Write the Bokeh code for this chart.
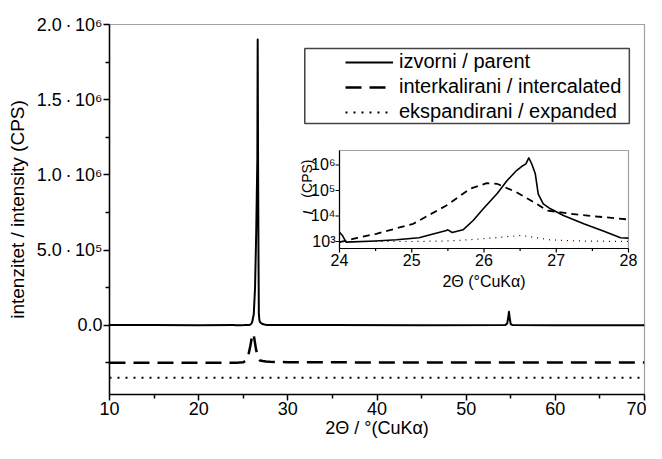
import math
from bokeh.plotting import figure
from bokeh.models import Range1d, LogScale, FixedTicker, Legend, LegendItem
from bokeh.core.properties import value
from bokeh.embed import file_html
from bokeh.resources import INLINE

# ---------------- data ----------------
parent_2theta = [10, 15, 20, 24.0, 24.04, 24.09, 24.5, 24.79, 25.1, 25.48, 25.5, 25.56,
                 25.71, 25.85, 25.99, 26.18, 26.32, 26.45, 26.52, 26.58, 26.62, 26.66,
                 26.71, 26.75, 26.82, 26.92, 27.1, 27.38, 27.66, 27.89, 28.0, 35, 45,
                 54.4, 54.6, 54.7, 54.8, 54.9, 55.0, 55.2, 60, 70]
parent_cps = [1500, 1300, 1200, 2300, 1720, 940, 1050, 1170, 1400, 2700, 2870, 2250,
              2870, 6650, 19100, 74000, 246000, 605000, 870000, 1100000, 1900000, 1120000,
              450000, 74000, 30000, 19100, 10400, 4940, 2530, 1400, 1350, 1300, 1200,
              1500, 12000, 45000, 90000, 40000, 8000, 1500, 1100, 1000]

inter_2theta = [10, 20, 24.0, 24.23, 24.51, 25.02, 25.48, 25.81, 26.04, 26.18, 26.45,
                26.69, 26.87, 27.19, 27.56, 28.0, 30, 40, 55, 70]
inter_cps = [1500, 1100, 940, 1350, 2000, 4940, 25800, 117000, 194000, 183000, 85000,
             34700, 16500, 12300, 9560, 7300, 5000, 3000, 2500, 2000]

exp_2theta = [10, 24.0, 25.0, 25.5, 25.8, 26.2, 26.5, 26.7, 26.9, 27.3, 28.0, 40, 70]
exp_cps = [1200, 1000, 1000, 1050, 1170, 1450, 1720, 1450, 1170, 1050, 1000, 1000, 1000]

inter_offset = -0.25e6
exp_offset = -0.35e6

series_labels = ["izvorni / parent", "interkalirani / intercalated", "ekspandirani / expanded"]

x_major = [10, 20, 30, 40, 50, 60, 70]
x_minor = [15, 25, 35, 45, 55, 65]
y_major = [0, 0.5e6, 1.0e6, 1.5e6, 2.0e6]
y_minor = [-0.25e6, 0.25e6, 0.75e6, 1.25e6, 1.75e6]
y_tick_labels = ["0.0", "5.0\u2009·\u200910⁵", "1.0\u2009·\u200910⁶",
                 "1.5\u2009·\u200910⁶", "2.0\u2009·\u200910⁶"]

inset_x_major = [24, 25, 26, 27, 28]
inset_x_minor = [24.5, 25.5, 26.5, 27.5]
inset_x_labels = ["24", "25", "26", "27", "28"]
inset_y_major = [1e3, 1e4, 1e5, 1e6]
inset_y_labels = ["10³", "10⁴", "10⁵", "10⁶"]

# ---------------- layout ----------------
FONT = "Liberation Sans"
W, H = 646, 443
FRAME_W, FRAME_H = 535, 370

p = figure(width=W, height=H, output_backend="svg", toolbar_location=None,
           x_range=Range1d(10, 70), y_range=Range1d(-0.46e6, 2.0e6),
           min_border_left=109, min_border_right=2, min_border_top=24, min_border_bottom=49)
p.grid.visible = False
p.outline_line_color = "#a0a0a0"
p.outline_line_width = 1.2
p.background_fill_color = "white"
p.border_fill_color = "white"

for ax in (p.xaxis[0], p.yaxis[0]):
    ax.axis_line_color = "black"
    ax.axis_line_width = 1.5
    ax.major_tick_line_width = 1.5
    ax.minor_tick_line_width = 1.5
    ax.major_tick_out = 6
    ax.major_tick_in = 0
    ax.minor_tick_out = 4
    ax.minor_tick_in = 0
    ax.major_label_text_font = FONT
    ax.major_label_text_font_size = "18px"
    ax.major_label_text_color = "black"
    ax.axis_label_text_font = FONT
    ax.axis_label_text_font_style = "normal"
    ax.axis_label_text_color = "black"
    ax.major_label_standoff = 1

p.xaxis.axis_label_text_font_size = "18px"
p.yaxis.axis_label_text_font_size = "19px"
p.xaxis.ticker = FixedTicker(ticks=x_major, minor_ticks=x_minor)
p.yaxis.ticker = FixedTicker(ticks=y_major, minor_ticks=y_minor)
p.yaxis.major_label_overrides = {v: s for v, s in zip(y_major, y_tick_labels)}
p.xaxis.axis_label = "2Θ / °(CuKα)"
p.yaxis.axis_label = "intenzitet / intensity (CPS)"
p.xaxis.axis_label_standoff = 0
p.yaxis.axis_label_standoff = 6

# ---------------- main curves ----------------
r_parent = p.line(parent_2theta, parent_cps, line_color="black", line_width=2, line_join="round")
r_inter = p.line(inter_2theta, [c + inter_offset for c in inter_cps], line_color="black",
                 line_width=2.5, line_dash="16 8", line_join="round")
r_exp = p.line(exp_2theta, [c + exp_offset for c in exp_cps], line_color="black",
               line_width=2, line_dash="2 6")

# legend box (data coords of the main axes)
p.quad(left=[31.9], right=[68.3], bottom=[1.342e6], top=[1.840e6],
       fill_alpha=0, line_color="#444444", line_width=1.5)

legend = Legend(items=[LegendItem(label=series_labels[0], renderers=[r_parent]),
                       LegendItem(label=series_labels[1], renderers=[r_inter]),
                       LegendItem(label=series_labels[2], renderers=[r_exp])],
                location=(236, 271), padding=0, margin=0, spacing=2,
                label_height=22, glyph_height=22, glyph_width=48, label_standoff=6,
                background_fill_alpha=0, border_line_alpha=0,
                label_text_font=FONT, label_text_font_size="20px", label_text_color="black")
p.add_layout(legend, "center")

# ---------------- inset (log axis, drawn inside main frame) ----------------
IX0, IX1 = 24, 28
IL0, IL1 = 2.725, 6.569           # log10 limits of inset y axis
FX0, FX1 = 0.4299, 0.9701         # inset frame position as fraction of main frame
FY0, FY1 = 0.3946, 0.6595
span_x = (IX1 - IX0) / (FX1 - FX0)
ix_start = IX0 - FX0 * span_x
span_l = (IL1 - IL0) / (FY1 - FY0)
il_start = IL0 - FY0 * span_l
px_per_x = FRAME_W / span_x
px_per_dec = FRAME_H / span_l

p.extra_x_ranges = {"inx": Range1d(ix_start, ix_start + span_x)}
p.extra_y_ranges = {"iny": Range1d(10 ** il_start, 10 ** (il_start + span_l))}
p.extra_y_scales = {"iny": LogScale()}
kw = dict(x_range_name="inx", y_range_name="iny")

ybot, ytop = 10 ** IL0, 10 ** IL1
p.quad(left=[IX0], right=[IX1], bottom=[ybot], top=[ytop], fill_color="white",
       line_color="#a0a0a0", line_width=1.2, **kw)

def clip(xs, ys):
    pts = [(x, y) for x, y in zip(xs, ys) if IX0 <= x <= IX1]
    return [a for a, _ in pts], [b for _, b in pts]

xs, ys = clip(parent_2theta, parent_cps)
p.line(xs, ys, line_color="black", line_width=1.6, line_join="round", **kw)
xs, ys = clip(inter_2theta, inter_cps)
p.line(xs, ys, line_color="black", line_width=1.8, line_dash="7 5", **kw)
xs, ys = clip(exp_2theta, exp_cps)
p.line(xs, ys, line_color="black", line_width=1.2, line_dash="1 5", **kw)

# inset axes lines
p.segment(x0=[IX0, IX0], y0=[ybot, ybot], x1=[IX1, IX0], y1=[ybot, ytop],
          line_color="black", line_width=1.2, **kw)
# x ticks
dmaj = 10 ** (-4 / px_per_dec)
dmin = 10 ** (-2.5 / px_per_dec)
p.segment(x0=inset_x_major, y0=[ybot] * len(inset_x_major), x1=inset_x_major,
          y1=[ybot * dmaj] * len(inset_x_major), line_color="black", line_width=1.2, **kw)
p.segment(x0=inset_x_minor, y0=[ybot] * len(inset_x_minor), x1=inset_x_minor,
          y1=[ybot * dmin] * len(inset_x_minor), line_color="black", line_width=1.2, **kw)
# y ticks
p.segment(x0=[IX0] * len(inset_y_major), y0=inset_y_major,
          x1=[IX0 - 4 / px_per_x] * len(inset_y_major), y1=inset_y_major,
          line_color="black", line_width=1.2, **kw)
# tick labels
p.text(x=inset_x_major, y=[ybot * 10 ** (-6 / px_per_dec)] * len(inset_x_major),
       text=inset_x_labels, text_font=value(FONT), text_font_size="16px",
       text_align="center", text_baseline="top", text_color="black", **kw)
p.text(x=[IX0 - 4 / px_per_x] * len(inset_y_major), y=inset_y_major, text=inset_y_labels,
       text_font=value(FONT), text_font_size="16px", text_align="right",
       text_baseline="middle", text_color="black", **kw)
# inset axis labels
p.text(x=[(IX0 + IX1) / 2], y=[ybot * 10 ** (-33 / px_per_dec)], text=["2Θ (°CuKα)"],
       text_font=value(FONT), text_font_size="16px", text_align="center",
       text_baseline="middle", text_color="black", **kw)
ylab_x = IX0 - 32 / px_per_x
p.text(x=[ylab_x], y=[10 ** 4.13], text=["I"], angle=math.pi / 2, text_font=value(FONT),
       text_font_size="15px", text_font_style="italic", text_align="center",
       text_baseline="middle", text_color="black", **kw)
p.text(x=[ylab_x], y=[10 ** 4.72], text=["(CPS)"], angle=math.pi / 2, text_font=value(FONT),
       text_font_size="14px", text_align="left", text_baseline="middle",
       text_color="black", **kw)

open("out.html", "w").write(file_html(p, INLINE))
